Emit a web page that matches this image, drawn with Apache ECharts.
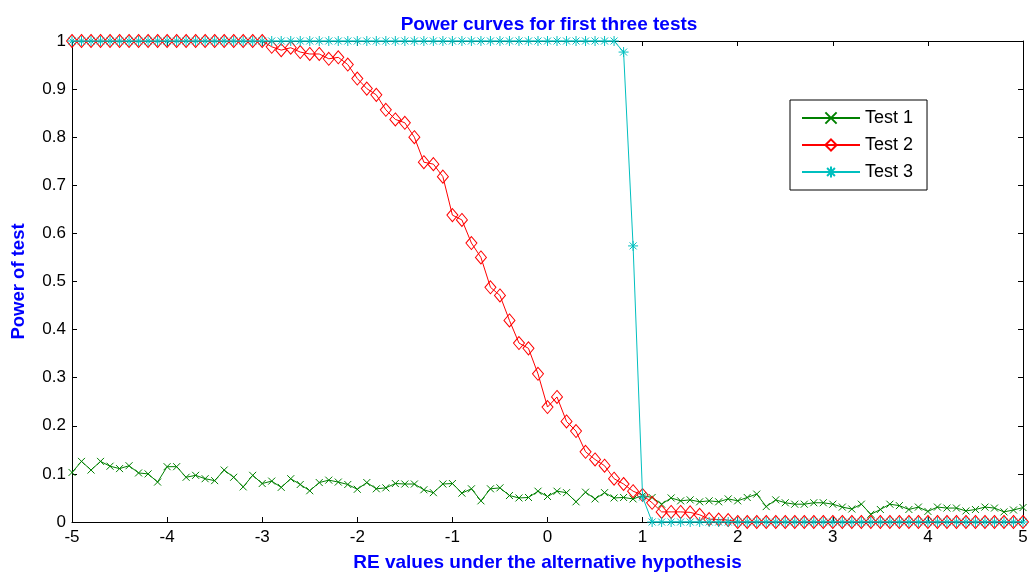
<!DOCTYPE html>
<html>
<head>
<meta charset="utf-8">
<script src="https://cdn.jsdelivr.net/npm/echarts@6/dist/echarts.min.js"></script>
<style>
html,body{margin:0;padding:0;background:#fff;}
#chart{width:1032px;height:575px;}
</style>
</head>
<body>
<div id="chart"></div>
<script>
var xValues = [-5.0,-4.9,-4.8,-4.7,-4.6,-4.5,-4.4,-4.3,-4.2,-4.1,-4.0,-3.9,-3.8,-3.7,-3.6,-3.5,-3.4,-3.3,-3.2,-3.1,
  -3.0,-2.9,-2.8,-2.7,-2.6,-2.5,-2.4,-2.3,-2.2,-2.1,-2.0,-1.9,-1.8,-1.7,-1.6,-1.5,-1.4,-1.3,-1.2,-1.1,
  -1.0,-0.9,-0.8,-0.7,-0.6,-0.5,-0.4,-0.3,-0.2,-0.1,0.0,0.1,0.2,0.3,0.4,0.5,0.6,0.7,0.8,0.9,
  1.0,1.1,1.2,1.3,1.4,1.5,1.6,1.7,1.8,1.9,2.0,2.1,2.2,2.3,2.4,2.5,2.6,2.7,2.8,2.9,
  3.0,3.1,3.2,3.3,3.4,3.5,3.6,3.7,3.8,3.9,4.0,4.1,4.2,4.3,4.4,4.5,4.6,4.7,4.8,4.9,5.0];

var test1 = [0.103,0.126,0.108,0.126,0.116,0.111,0.117,0.102,0.100,0.083,0.115,0.115,0.093,0.097,0.090,0.086,0.108,0.093,0.073,0.097,
  0.080,0.085,0.072,0.090,0.078,0.065,0.082,0.087,0.083,0.078,0.068,0.082,0.069,0.071,0.080,0.079,0.079,0.067,0.061,0.079,
  0.080,0.060,0.069,0.044,0.069,0.071,0.055,0.050,0.051,0.064,0.053,0.064,0.061,0.042,0.062,0.048,0.061,0.050,0.051,0.048,
  0.055,0.051,0.037,0.050,0.044,0.046,0.042,0.044,0.042,0.048,0.044,0.051,0.058,0.032,0.046,0.040,0.037,0.037,0.040,0.040,
  0.037,0.031,0.027,0.037,0.016,0.026,0.037,0.034,0.026,0.031,0.022,0.031,0.029,0.029,0.023,0.026,0.031,0.029,0.021,0.025,0.030];

var test2 = [1,1,1,1,1,1,1,1,1,1,1,1,1,1,1,1,1,1,1,1,
  1,0.988,0.981,0.986,0.977,0.973,0.973,0.963,0.966,0.951,0.922,0.901,0.888,0.857,0.837,0.830,0.800,0.748,0.744,0.718,
  0.638,0.628,0.580,0.550,0.488,0.471,0.419,0.372,0.361,0.308,0.239,0.260,0.209,0.189,0.146,0.130,0.117,0.090,0.079,0.064,
  0.056,0.040,0.021,0.021,0.021,0.020,0.015,0.006,0.005,0.004,0,0,0,0,0,0,0,0,0,0,
  0,0,0,0,0,0,0,0,0,0,0,0,0,0,0,0,0,0,0,0,0];

var test3 = [1,1,1,1,1,1,1,1,1,1,1,1,1,1,1,1,1,1,1,1,
  1,1,1,1,1,1,1,1,1,1,1,1,1,1,1,1,1,1,1,1,
  1,1,1,1,1,1,1,1,1,1,1,1,1,1,1,1,1,1,0.977,0.574,
  0.052,0,0,0,0,0,0,0,0,0,0,0,0,0,0,0,0,0,0,0,
  0,0,0,0,0,0,0,0,0,0,0,0,0,0,0,0,0,0,0,0,0];

var seriesNames = ['Test 1','Test 2','Test 3'];
var xTicks = [-5,-4,-3,-2,-1,0,1,2,3,4,5];
var yTicks = [0,0.1,0.2,0.3,0.4,0.5,0.6,0.7,0.8,0.9,1];

function pairs(ys){ return xValues.map(function(x,i){ return [x, ys[i]]; }); }

var FONT = 'Liberation Sans, Arial, Helvetica, sans-serif';
var chart = echarts.init(document.getElementById('chart'), null, {renderer:'canvas'});
var axisCommon = {
  axisLine:{show:true, onZero:false, lineStyle:{color:'#000', width:1}},
  axisTick:{show:true, inside:true, length:5, lineStyle:{color:'#000', width:1}},
  splitLine:{show:false}
};
chart.setOption({
  animation:false,
  backgroundColor:'#fff',
  title:{
    text:'Power curves for first three tests',
    left:544, top:10, textAlign:'center',
    textStyle:{fontFamily:FONT, fontSize:19, fontWeight:'bold', color:'#0000FF'}
  },
  grid:{left:72, right:9, top:41, bottom:53, containLabel:false, outerBoundsMode:'none'},
  legend:{
    data:seriesNames,
    orient:'vertical',
    left:790, top:100,
    padding:[9,14,9,11],
    itemWidth:58, itemHeight:14, itemGap:9,
    backgroundColor:'#fff',
    borderColor:'#000', borderWidth:1,
    textStyle:{fontFamily:FONT, fontSize:18, color:'#000'}
  },
  xAxis:[
    Object.assign({type:'value', position:'bottom', min:-5, max:5, interval:1,
      axisLabel:{show:true, fontFamily:FONT, fontSize:17, color:'#000', margin:7,
        formatter:function(v){return String(v);}},
      name:'RE values under the alternative hypothesis', nameLocation:'middle', nameGap:31,
      nameTextStyle:{fontFamily:FONT, fontSize:19, fontWeight:'bold', color:'#0000FF'}
    }, axisCommon),
    Object.assign({type:'value', position:'top', min:-5, max:5, interval:1,
      axisLabel:{show:false}}, axisCommon)
  ],
  yAxis:[
    Object.assign({type:'value', position:'left', min:0, max:1, interval:0.1,
      axisLabel:{show:true, fontFamily:FONT, fontSize:17, color:'#000', margin:6,
        formatter:function(v){return String(Math.round(v*10)/10);}},
      name:'Power of test', nameLocation:'middle', nameGap:44, nameRotate:90,
      nameTextStyle:{fontFamily:FONT, fontSize:18.5, fontWeight:'bold', color:'#0000FF'}
    }, axisCommon),
    Object.assign({type:'value', position:'right', min:0, max:1, interval:0.1,
      axisLabel:{show:false}}, axisCommon)
  ],
  series:[
    {
      name:seriesNames[0], type:'line', data:pairs(test1),
      symbol:'path://M0,0L10,10M0,10L10,0', symbolSize:7, showAllSymbol:true,
      lineStyle:{color:'#008000', width:1},
      itemStyle:{color:'rgba(0,0,0,0)', borderColor:'#008000', borderWidth:1},
      z:2
    },
    {
      name:seriesNames[1], type:'line', data:pairs(test2),
      symbol:'diamond', symbolSize:[11,13], showAllSymbol:true,
      lineStyle:{color:'#FF0000', width:1},
      itemStyle:{color:'rgba(0,0,0,0)', borderColor:'#FF0000', borderWidth:1},
      z:3
    },
    {
      name:seriesNames[2], type:'line', data:pairs(test3),
      symbol:'path://M5,0L5,10M0,5L10,5M1.5,1.5L8.5,8.5M1.5,8.5L8.5,1.5', symbolSize:10, showAllSymbol:true,
      lineStyle:{color:'#00BFBF', width:1},
      itemStyle:{color:'rgba(0,0,0,0)', borderColor:'#00BFBF', borderWidth:1},
      z:4
    }
  ]
});
</script>
</body>
</html>
